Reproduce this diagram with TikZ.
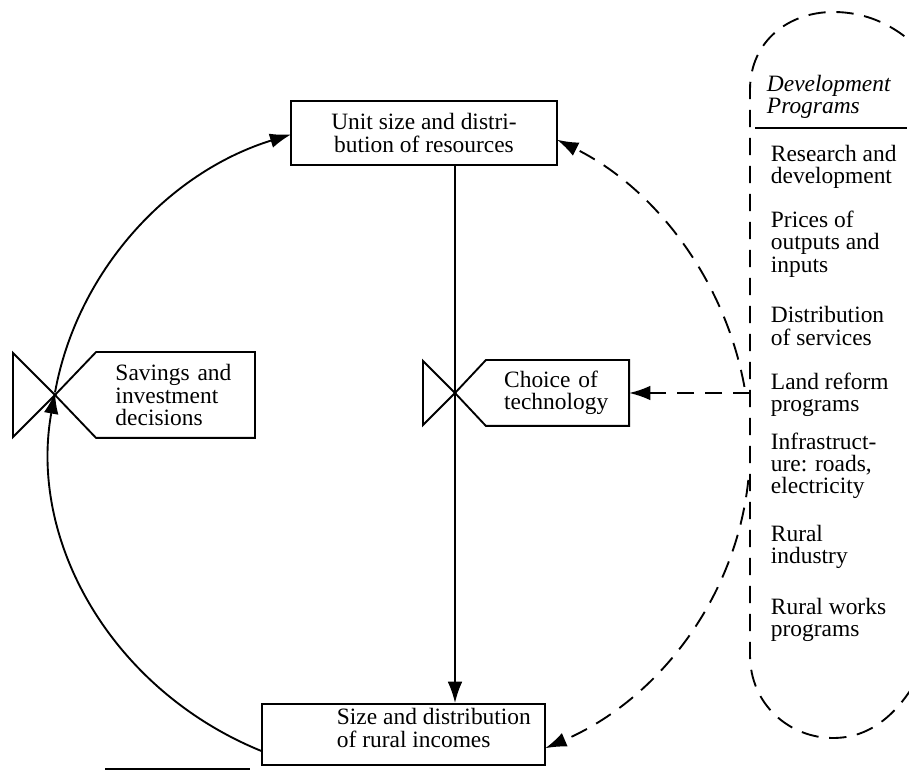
\documentclass[tikz,border=0pt]{standalone}
\usepackage{fontspec}
\setmainfont{Liberation Serif}
\usetikzlibrary{arrows.meta}
\tikzset{mybox/.style={draw,line width=0.8pt,align=center,inner sep=0pt}}
\tikzset{mylabel/.style={inner xsep=0.26cm,inner ysep=0pt,align=left}}
\tikzset{mytext/.style={inner sep=0pt,align=left}}
\tikzset{mydashed/.style={line width=0.8pt,dash pattern=on 2.6mm off 1.6mm}}
\tikzset{myarrow/.style={-{Latex[length=3.2mm,width=2.2mm]}}}

\begin{document}
\begin{tikzpicture}[x=0.015cm,y=-0.015cm,line width=0.8pt,font=\fontsize{10}{9.5}\selectfont]
            \useasboundingbox (0,0) rectangle (909,773);
            \clip (0,0) rectangle (909,773);
            % setup the boxes
            \node[mybox,minimum width=3.99cm,minimum height=0.96cm] (res) at (424,133) {Unit size and distri-\\bution of resources};
            \node[mybox,minimum width=4.245cm,minimum height=0.915cm] (inc) at (403.5,734.5) {};
            \node[mytext,anchor=west] (inctext) at (336,728) {Size and distribution\\of rural incomes};
            % the two valves with their labels
            \coordinate (savx) at (55,395);
            \coordinate (choicex) at (455,393);
            \node[mylabel,minimum width=2.355cm,minimum height=1.26cm,text width=1.8cm] (sav) at (175.5,395) {Savings and\\investment\\decisions};
            \node[mylabel,minimum width=2.115cm,minimum height=0.96cm,text width=1.6cm] (choice) at (557.5,393) {Choice of\\technology};
            \foreach \v/\l/\h in {savx/sav/42,choicex/choice/32}
            {
                \draw (\v) -- ++(-\h,-\h) -- ++(0,2*\h) -- cycle;
                \draw (\v) -- (\l.north west) -- (\l.north east) -- (\l.south east) -- (\l.south west) -- cycle;
            }
            % the loop round the boxes
            \coordinate (c) at (400,448);
            \draw[myarrow] (c) ++(113.2:350 and 330) arc[start angle=113.2,end angle=189.7,x radius=350,y radius=330];
            \draw[myarrow] (c) ++(189.7:350 and 330) arc[start angle=189.7,end angle=251.9,x radius=350,y radius=330];
            \draw[mydashed,myarrow] (c) ++(-10.2:350 and 345) arc[start angle=-10.2,end angle=-63.35,x radius=350,y radius=345];
            \draw[mydashed,myarrow] (c) ++(5.56:350 and 330) arc[start angle=5.56,end angle=65.5,x radius=350,y radius=330];
            % resources to incomes through the choice of technology
            \draw[myarrow] (res.south -| choicex) -- (inc.north -| choicex);
            \coordinate (land) at (750,393);
            \draw[mydashed,myarrow] (land) -- (choice.east);
            % development programs
            \draw[mydashed] (925,55) .. controls (900,28) and (870,12) .. (833,12)
                .. controls (790,12) and (750,40) .. (750,90) -- (750,655)
                .. controls (750,705) and (790,738) .. (833,738)
                .. controls (870,738) and (900,715) .. (925,665);
            \node[mytext,anchor=west,font=\fontsize{10}{9.5}\selectfont\itshape] (dphead) at (766,97) {Development\\Programs};
            \draw (755,128) -- (907,128);
            \foreach \n/\y/\lines in {1/167/{Research and\\development},2/244/{Prices of\\outputs and\\inputs},3/326/{Distribution\\of services},4/395/{Land reform\\programs},5/466/{Infrastruct-\\ure: roads,\\electricity},6/547/{Rural\\industry},7/620/{Rural works\\programs}}
            {
                \node[mytext,anchor=west] (dp\n) at (770,\y) {\lines};
            }
            \draw (105,769) -- (250,769);
        \end{tikzpicture}
\end{document}
